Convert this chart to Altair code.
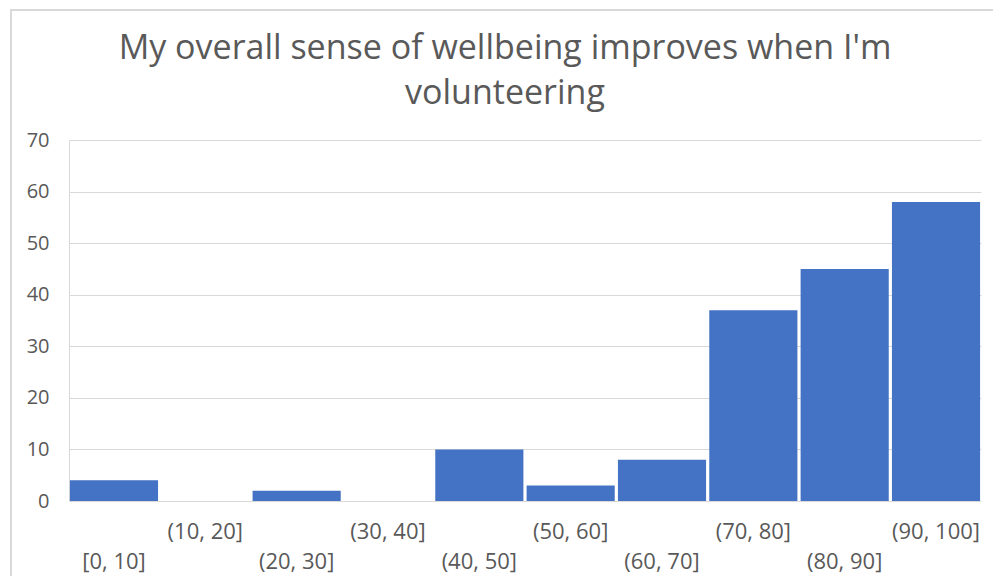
import altair as alt
import pandas as pd

bins = ["[0, 10]", "(10, 20]", "(20, 30]", "(30, 40]", "(40, 50]",
        "(50, 60]", "(60, 70]", "(70, 80]", "(80, 90]", "(90, 100]"]
counts = [4, 0, 2, 0, 10, 3, 8, 37, 45, 58]
upper_row = ["(10, 20]", "(30, 40]", "(50, 60]", "(70, 80]", "(90, 100]"]

df = pd.DataFrame({"bin": bins, "count": counts})

FONT = "Open Sans"
GREY = "#595959"

test = "indexof([" + ",".join("'" + s + "'" for s in upper_row) + "], datum.value) >= 0"

bars = alt.Chart(df).mark_bar(color="#4472C4").encode(
    x=alt.X("bin:N", sort=bins, title=None,
            scale=alt.Scale(paddingInner=0.035, paddingOuter=0.01),
            axis=alt.Axis(labelAngle=0, labelFont=FONT, labelFontSize=22,
                          labelColor=GREY, ticks=False, domain=False,
                          labelPadding={"condition": {"test": test, "value": 20}, "value": 50})),
    y=alt.Y("count:Q", title=None,
            scale=alt.Scale(domain=[0, 70]),
            axis=alt.Axis(values=[0, 10, 20, 30, 40, 50, 60, 70], labelFont=FONT,
                          labelFontSize=20, labelColor=GREY, ticks=False,
                          domain=True, domainColor="#d9d9d9", labelPadding=20,
                          gridColor="#d9d9d9", gridWidth=1.2)),
)

frame = alt.Chart(df).mark_rect(fill=None, stroke="#d9d9d9", strokeWidth=1.5).encode(
    x=alt.value(-58), x2=alt.value(928), y=alt.value(-130), y2=alt.value(445)
)

chart = alt.layer(frame, bars).properties(
    width=912, height=361,
    title=alt.Title(["My overall sense of wellbeing improves when I'm", "volunteering"],
                    font=FONT, fontSize=34, fontWeight="normal", color=GREY,
                    anchor="middle", dx=-20, offset=-102, lineHeight=45),
    autosize=alt.AutoSizeParams(type="none"),
    padding={"left": 61, "top": 132, "right": 12, "bottom": 75},
).configure(background="white", view=alt.ViewConfig(stroke=None))

chart.save("out.html", embed_options={"renderer": "svg", "actions": False})
